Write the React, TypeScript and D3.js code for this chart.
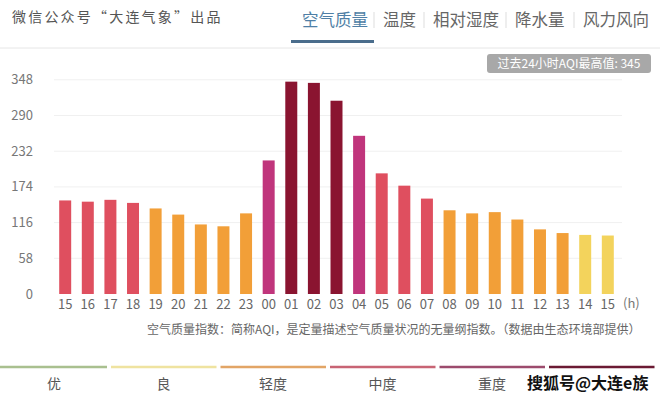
import React from "react";
import * as d3 from "d3";

const hours = ["15","16","17","18","19","20","21","22","23","00","01","02","03","04","05","06","07","08","09","10","11","12","13","14","15"];
const aqi = [152,150,153,148,139,129,113,110,131,217,345,343,314,257,196,176,155,136,131,133,121,105,99,96,95];
// air quality level per hour (1=良, 2=轻度, 3=中度, 4=重度, 5=严重)
const levels = [3,3,3,3,2,2,2,2,2,4,5,5,5,4,3,3,3,2,2,2,2,2,2,1,1];
const yTicks = [0,58,116,174,232,290,348];
const tabs = ["空气质量","温度","相对湿度","降水量","风力风向"];
const levelNames = ["优","良","轻度","中度","重度","严重"];
const levelColors = ["#a9c08f","#efe3a0","#e2a566","#c86474","#9c4b6d","#6b1a33"];
const barColors = ["#8fd16b","#f3d35c","#f29f38","#df4f5f","#c0357c","#8a1430"];

const FONT = "'Noto Sans CJK SC', 'Noto Sans', sans-serif";

export default function App() {
  const W = 660, H = 397;
  const x = d3.scaleBand<number>().domain(d3.range(hours.length)).range([54, 619]).paddingInner(0.47).paddingOuter(0.23);
  const y = d3.scaleLinear().domain([0, 348]).range([294, 79.8]);
  const tabX = [302, 383, 433, 515, 583];
  const sepX = [374, 424, 506, 574];
  return (
    <svg width={W} height={H} style={{ position: "absolute", left: 0, top: 0, background: "#fff" }} fontFamily={FONT}>
      <rect width={W} height={H} fill="#fff" />
      <text x={12} y={22} fontSize={14} fill="#555" letterSpacing={2.2}>微信公众号“大连气象”出品</text>
      {tabs.map((t, i) => (
        <text key={t} x={tabX[i]} y={26} fontSize={16.5} fill={i === 0 ? "#4f7fa6" : "#666"}>{t}</text>
      ))}
      {sepX.map((sx) => (
        <line key={sx} x1={sx} x2={sx} y1={12} y2={28} stroke="#ddd" strokeWidth={1} />
      ))}
      <line x1={0} x2={W} y1={48} y2={48} stroke="#e6e6e6" strokeWidth={1} />
      <rect x={291} y={40} width={83} height={3} fill="#4a6d8c" />
      <rect x={487} y={54} width={164} height={19} rx={3} fill="#a8a8a8" />
      <text x={569} y={68} fontSize={12} fill="#fff" textAnchor="middle">过去24小时AQI最高值: 345</text>
      {yTicks.map((t) => (
        <g key={t}>
          {t > 0 && <line x1={54} x2={622} y1={y(t)} y2={y(t)} stroke="#f0f0f0" strokeWidth={1} />}
          <text x={33} y={y(t) + 4.5} fontSize={13} fill="#777" textAnchor="end">{t}</text>
        </g>
      ))}
      {aqi.map((v, i) => (
        <rect key={i} x={x(i)!} y={y(v)} width={x.bandwidth()} height={y(0) - y(v)} fill={barColors[levels[i]]} />
      ))}
      {hours.map((h, i) => (
        <text key={i} x={x(i)! + x.bandwidth() / 2} y={309} fontSize={13} fill="#666" textAnchor="middle">{h}</text>
      ))}
      <text x={623} y={308} fontSize={13} fill="#777">(h)</text>
      <text x={147} y={334} fontSize={12} fill="#666">空气质量指数：简称AQI，是定量描述空气质量状况的无量纲指数。（数据由生态环境部提供）</text>
      {levelColors.map((c, i) => (
        <line key={i} x1={i * 109.5 + (i === 0 ? 0 : 1.5)} x2={i * 109.5 + 107} y1={367} y2={367} stroke={c} strokeWidth={2.5} />
      ))}
      {levelNames.slice(0, 5).map((n, i) => (
        <text key={n} x={54 + i * 109.5} y={389} fontSize={14} fill="#555" textAnchor="middle">{n}</text>
      ))}
      <text x={527} y={389} fontSize={16} fill="#111" fontWeight="bold">搜狐号@大连e族</text>
    </svg>
  );
}
